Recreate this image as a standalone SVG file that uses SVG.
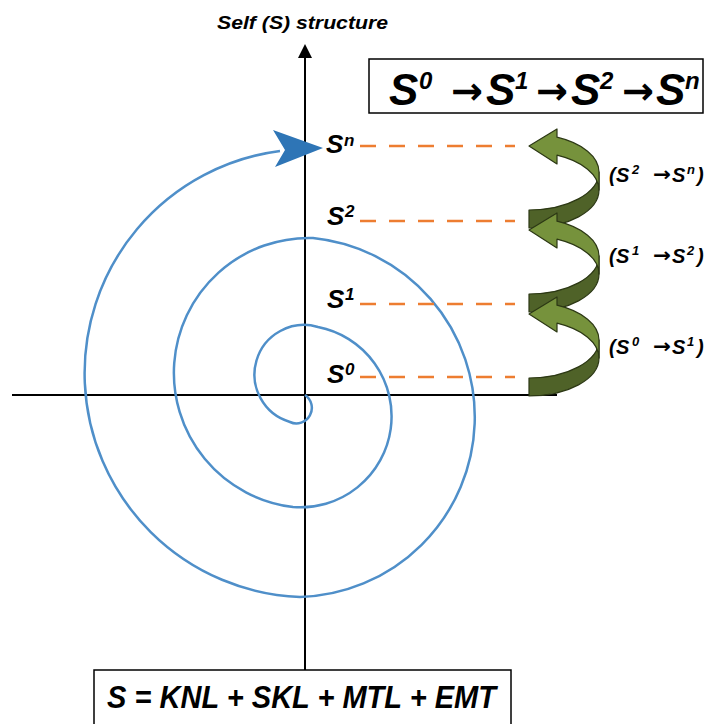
<svg xmlns="http://www.w3.org/2000/svg" width="710" height="724" viewBox="0 0 710 724">
<defs>
<style>
.t{font-family:"Liberation Sans",Arial,sans-serif;font-weight:bold;font-style:italic;fill:#000}
.ar{font-family:"DejaVu Sans","Liberation Sans",sans-serif;font-weight:bold;font-style:normal}
.axis{stroke:#000;stroke-width:2;fill:none}
.dash{stroke:#ED7D31;stroke-width:2.5;stroke-dasharray:16 13;fill:none}
.spiral{stroke:#4F8FC9;stroke-width:2.5;fill:none}
.box{fill:#fff;stroke:#000;stroke-width:1.5}
.gl{fill:#76923C;stroke:#2C3814;stroke-width:1.2;stroke-linejoin:round}
.gd{fill:#4F6228;stroke:#2C3814;stroke-width:1.2;stroke-linejoin:round}
</style>
<g id="garrow">
<path class="gd" d="M599,340 A70 38 0 0 1 529,378 L529,396 A70 38 0 0 0 599,358 Z"/>
<path class="gl" d="M529,314 L557,297 L557,305.2 A70 38 0 0 1 599,340 L599,358 A70 38 0 0 0 557,323.2 L557,332 Z"/>
</g>
</defs>
<rect width="710" height="724" fill="#fff"/>

<g id="axes">
<line class="axis" x1="305" y1="56" x2="305" y2="670"/>
<polygon points="305,44 298,58 312,58" fill="#000"/>
<line class="axis" x1="12" y1="395" x2="557" y2="395"/>
</g>

<g id="connectors">
<path class="spiral" d="M305,395 A15.5 15.5 0 0 1 290,422 A49.5 49.5 0 0 1 318,327 A91 91 0 0 1 293,507 A135 135 0 0 1 313,238 A180 180 0 0 1 300,597 A224 224 0 0 1 280,151"/>
<polygon points="323,148 273,130 285,150 275,167" fill="#2E75B6"/>
<line class="dash" x1="360" y1="146" x2="515" y2="146"/>
<line class="dash" x1="360" y1="221" x2="515" y2="221"/>
<line class="dash" x1="360" y1="304" x2="515" y2="304"/>
<line class="dash" x1="360" y1="377" x2="515" y2="377"/>
</g>

<g id="green-arrows">
<use href="#garrow" transform="translate(0,-168)"/>
<use href="#garrow" transform="translate(0,-84)"/>
<use href="#garrow"/>
</g>

<g id="title">
<text class="t" x="217" y="29" font-size="19" textLength="171" lengthAdjust="spacingAndGlyphs">Self (S) structure</text>
</g>

<g id="label-sn"><text class="t" x="326" y="153" font-size="26">S<tspan x="344" y="146" font-size="17">n</tspan></text></g>
<g id="label-s2"><text class="t" x="327" y="225" font-size="26">S<tspan x="345" y="217" font-size="17">2</tspan></text></g>
<g id="label-s1"><text class="t" x="327" y="308" font-size="26">S<tspan x="345" y="300" font-size="17">1</tspan></text></g>
<g id="label-s0"><text class="t" x="327" y="383" font-size="26">S<tspan x="345" y="375" font-size="17">0</tspan></text></g>

<g id="sequence-box">
<rect class="box" x="369" y="59" width="334" height="54"/>
<text class="t" y="105" font-size="44"><tspan x="389">S</tspan><tspan x="419" y="89" font-size="24">0</tspan><tspan class="ar" x="451" y="104" font-size="38" textLength="32" lengthAdjust="spacingAndGlyphs">→</tspan><tspan x="486" y="105">S</tspan><tspan x="515" y="89" font-size="24">1</tspan><tspan class="ar" x="536" y="104" font-size="38" textLength="32" lengthAdjust="spacingAndGlyphs">→</tspan><tspan x="571" y="105">S</tspan><tspan x="600" y="89" font-size="24">2</tspan><tspan class="ar" x="622" y="104" font-size="38" textLength="32" lengthAdjust="spacingAndGlyphs">→</tspan><tspan x="656" y="105">S</tspan><tspan x="685" y="89" font-size="24">n</tspan></text>
</g>

<g id="label-s2-sn"><text class="t" y="182" font-size="20"><tspan x="609">(</tspan><tspan x="616">S</tspan><tspan x="632" y="174" font-size="13">2</tspan><tspan class="ar" x="653" y="181" textLength="18" lengthAdjust="spacingAndGlyphs">→</tspan><tspan x="672" y="182">S</tspan><tspan x="687" y="174" font-size="13">n</tspan><tspan x="697" y="182">)</tspan></text></g>
<g id="label-s1-s2"><text class="t" y="263" font-size="20"><tspan x="609">(</tspan><tspan x="616">S</tspan><tspan x="632" y="255" font-size="13">1</tspan><tspan class="ar" x="653" y="262" textLength="18" lengthAdjust="spacingAndGlyphs">→</tspan><tspan x="672" y="263">S</tspan><tspan x="687" y="255" font-size="13">2</tspan><tspan x="697" y="263">)</tspan></text></g>
<g id="label-s0-s1"><text class="t" y="354" font-size="20"><tspan x="609">(</tspan><tspan x="616">S</tspan><tspan x="632" y="346" font-size="13">0</tspan><tspan class="ar" x="653" y="353" textLength="18" lengthAdjust="spacingAndGlyphs">→</tspan><tspan x="672" y="354">S</tspan><tspan x="687" y="346" font-size="13">1</tspan><tspan x="697" y="354">)</tspan></text></g>

<g id="formula-box">
<rect class="box" x="94" y="670" width="417" height="70"/>
<text class="t" x="107" y="708" font-size="31" textLength="389" lengthAdjust="spacingAndGlyphs">S = KNL + SKL + MTL + EMT</text>
</g>
</svg>
